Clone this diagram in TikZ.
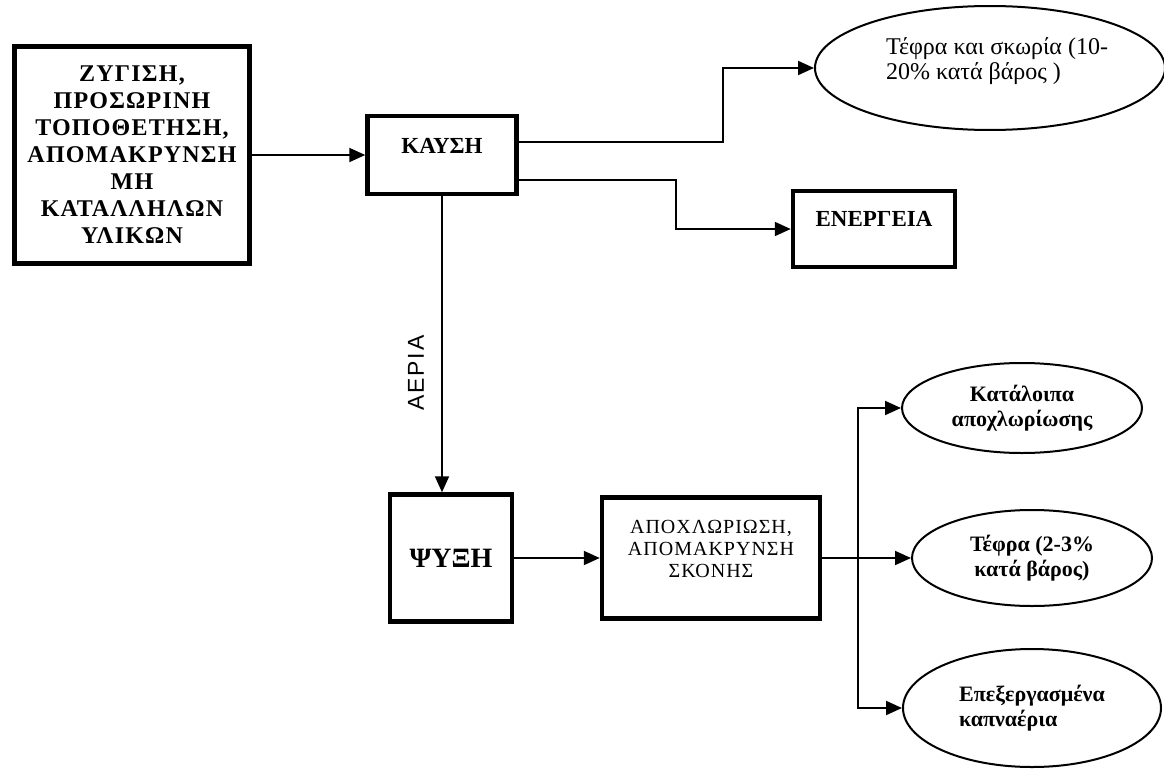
\documentclass[tikz,border=0pt]{standalone}
\usepackage{fontspec}
\setmainfont{Liberation Serif}
\newfontfamily\spacedserif[LetterSpace=5]{Liberation Serif}
\newfontfamily\aeriafont[LetterSpace=8]{Liberation Sans}
\usetikzlibrary{shapes.geometric,arrows.meta}

\begin{document}
\begin{tikzpicture}[x=1pt, y=-1pt, line width=2pt,
  thickbox/.style={draw, line width=4.5pt, align=center, inner sep=0pt},
  oval/.style={draw, ellipse, line width=2pt, inner sep=0pt, align=center,
    font=\bfseries\fontsize{22}{25}\selectfont},
  arr/.style={-{Triangle[length=16pt,width=14pt]}}]
  \useasboundingbox (0,0) rectangle (1164,768);

  % boxes
  \node[thickbox, minimum width=235pt, minimum height=217pt,
    font=\spacedserif\bfseries\fontsize{24}{27}\selectfont] (zyg) at (132,155)
    {ΖΥΓΙΣΗ,\\ΠΡΟΣΩΡΙΝΗ\\ΤΟΠΟΘΕΤΗΣΗ,\\ΑΠΟΜΑΚΡΥΝΣΗ\\ΜΗ\\ΚΑΤΑΛΛΗΛΩΝ\\ΥΛΙΚΩΝ};
  \node[thickbox, minimum width=149pt, minimum height=78pt, text depth=18pt,
    font=\bfseries\fontsize{23}{26}\selectfont] (kaysh) at (442,155) {ΚΑΥΣΗ};
  \node[thickbox, minimum width=162pt, minimum height=76pt, text depth=20pt,
    font=\bfseries\fontsize{23}{26}\selectfont] (energ) at (874,229) {ΕΝΕΡΓΕΙΑ};
  \node[thickbox, minimum width=122pt, minimum height=127pt,
    font=\bfseries\fontsize{28}{30}\selectfont] (psyxh) at (451,558) {ΨΥΞΗ};
  \node[thickbox, minimum width=218pt, minimum height=121pt, text depth=18pt,
    font=\spacedserif\fontsize{20}{22}\selectfont] (apox) at (711,558)
    {ΑΠΟΧΛΩΡΙΩΣΗ,\\ΑΠΟΜΑΚΡΥΝΣΗ\\ΣΚΟΝΗΣ};

  % ellipses
  \node[oval, minimum width=350pt, minimum height=124pt] (ash) at (990,68) {};
  \node[align=left, anchor=north west, inner sep=0pt,
    font=\fontsize{24}{25}\selectfont] (ashtxt) at (885,37)
    {Τέφρα και σκωρία (10-\\20\% κατά βάρος )};
  \node[oval, minimum width=240pt, minimum height=90pt] (katal) at (1022,408)
    {Κατάλοιπα\\αποχλωρίωσης};
  \node[oval, minimum width=240pt, minimum height=96pt] (tefra) at (1032,558)
    {Τέφρα (2-3\%\\κατά βάρος)};
  \node[oval, minimum width=258pt, minimum height=118pt, align=left] (kapn) at (1032,708)
    {Επεξεργασμένα\\καπναέρια};

  % connectors
  \coordinate (b1) at (723,142);
  \coordinate (b2) at (676,180);
  \coordinate (split) at (858,558);
  \draw[arr] (zyg.east) -- (kaysh.west);
  \draw[arr] (kaysh.east |- b1) -- (b1) |- (ash.west);
  \draw[arr] (kaysh.east |- b2) -- (b2) |- (energ.west);
  \draw[arr] (kaysh.south) -- (kaysh.south |- psyxh.north);
  \node[rotate=90, font=\aeriafont\fontsize{23}{24}\selectfont] (aeria) at (416,373) {ΑΕΡΙΑ};
  \draw[arr] (psyxh.east) -- (apox.west);
  \draw (apox.east) -- (split);
  \draw[arr] (split) -- (tefra.west);
  \draw[arr] (split) |- (katal.west);
  \draw[arr] (split) |- (kapn.west);
\end{tikzpicture}
\end{document}
